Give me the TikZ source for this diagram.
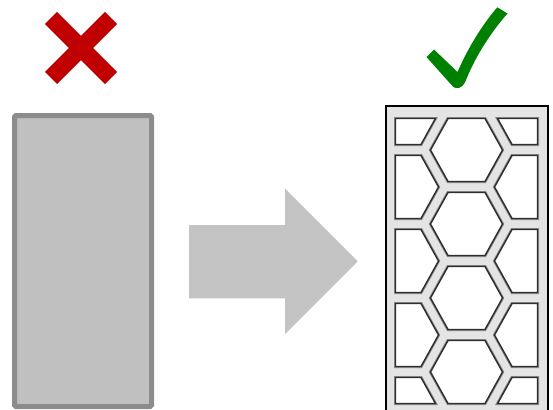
\documentclass[tikz,border=0pt]{standalone}
\definecolor{crossred}{HTML}{C00000}
\definecolor{tickgreen}{HTML}{008000}
\definecolor{slabfill}{HTML}{C0C0C0}
\definecolor{slabedge}{HTML}{8C8C8C}
\definecolor{arrowgrey}{HTML}{C3C3C3}
\definecolor{wallgrey}{HTML}{E4E4E4}
\definecolor{cellline}{HTML}{2E2E2E}
\definecolor{cellhalo}{HTML}{8A8A8A}
\begin{document}
\begin{tikzpicture}[x=1pt,y=-1pt,
  slab/.style={fill=slabfill,draw=slabedge,line width=5pt,rounded corners=1.5pt},
  bigarrow/.style={fill=arrowgrey,draw=none},
  crossbar/.style={draw=crossred,line width=17pt,line cap=butt},
  tick/.style={fill=tickgreen,draw=none},
  frame/.style={fill=wallgrey,draw=black,line width=2.2pt},
  cellhalo/.style={draw=cellhalo,line width=3pt,line join=miter},
  cell/.style={fill=white,draw=cellline,line width=1.4pt,line join=miter}]
\useasboundingbox (0,0) rectangle (553,409);

% solid slab with a red cross above it
\draw[slab] (14.5,115.5) rectangle (151.5,406.5);
\draw[crossbar] (51,18) -- (111,78);
\draw[crossbar] (51,78) -- (111,18);

% block arrow
\fill[bigarrow] (189,225) -- (285,225) -- (285,188.5) -- (357.7,261.3)
  -- (285,334) -- (285,298.3) -- (189,298.3) -- cycle;

% green tick
\fill[tick] (426.5,57) -- (434,49.5) -- (457.5,72)
  .. controls (468,48) and (482,25) .. (497.3,7.3)
  -- (507.5,13.5)
  .. controls (492,31) and (476,55) .. (466,80)
  .. controls (463,88) and (456,91) .. (451.5,85) -- cycle;

% honeycomb panel
\draw[frame] (386,106) rectangle (548,430);

\def\cellpaths{%
  % centre column of full hexagons
  \foreach \cy in {150,224,298,372}{
    \path[cellstyle] (430.5,\cy) -- (448,\cy-31.5) -- (485,\cy-31.5)
      -- (502.5,\cy) -- (485,\cy+31.5) -- (448,\cy+31.5) -- cycle;
  }
  % side columns, cut by the panel edges
  \foreach \cy in {187,261,335}{
    \path[cellstyle] (395.5,\cy-31.5) -- (421,\cy-31.5) -- (438.5,\cy)
      -- (421,\cy+31.5) -- (395.5,\cy+31.5) -- cycle;
    \path[cellstyle] (537.5,\cy-31.5) -- (512,\cy-31.5) -- (494.5,\cy)
      -- (512,\cy+31.5) -- (537.5,\cy+31.5) -- cycle;
  }
  % top corners
  \path[cellstyle] (395.5,118.5) -- (435.4,118.5) -- (421,144.5) -- (395.5,144.5) -- cycle;
  \path[cellstyle] (537.5,118.5) -- (497.6,118.5) -- (512,144.5) -- (537.5,144.5) -- cycle;
  % bottom corners
  \path[cellstyle] (395.5,377.5) -- (421,377.5) -- (435.4,403.5) -- (395.5,403.5) -- cycle;
  \path[cellstyle] (537.5,377.5) -- (512,377.5) -- (497.6,403.5) -- (537.5,403.5) -- cycle;
}
\tikzset{cellstyle/.style={cellhalo}}
\cellpaths
\tikzset{cellstyle/.style={cell}}
\cellpaths
\end{tikzpicture}
\end{document}
